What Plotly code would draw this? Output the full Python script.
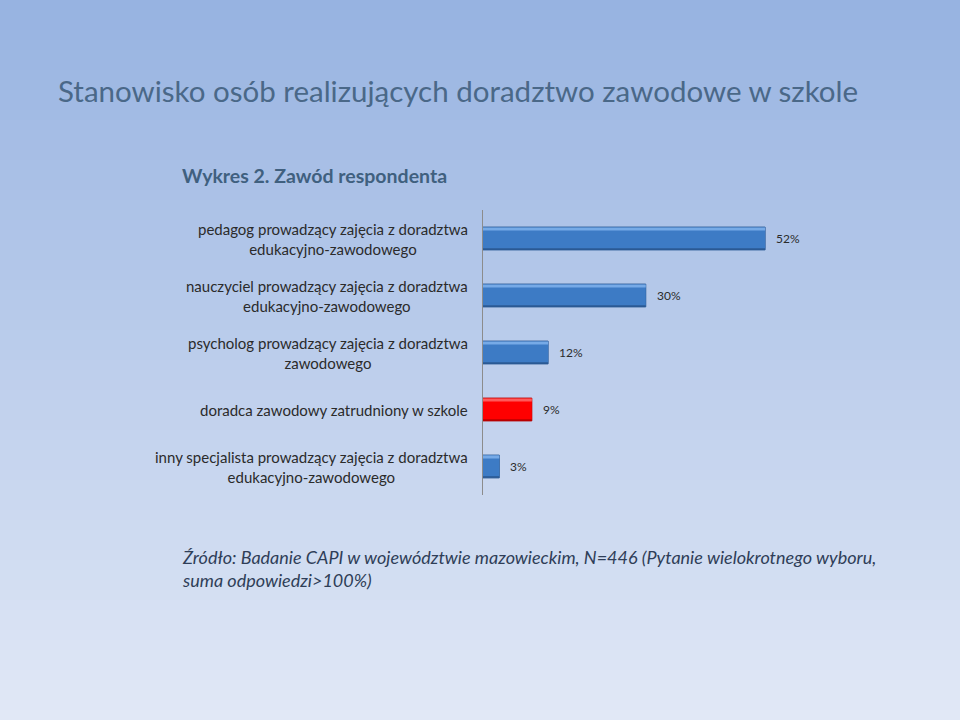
import plotly.graph_objects as go

categories = [
    "pedagog prowadzący zajęcia z doradztwa<br>edukacyjno-zawodowego",
    "nauczyciel prowadzący zajęcia z doradztwa<br>edukacyjno-zawodowego",
    "psycholog prowadzący zajęcia z doradztwa<br>zawodowego",
    "doradca zawodowy zatrudniony w szkole",
    "inny specjalista prowadzący zajęcia z doradztwa<br>edukacyjno-zawodowego",
]
values = [52, 30, 12, 9, 3]
value_labels = ["52%", "30%", "12%", "9%", "3%"]
bar_colors = ["#3D7BC5", "#3D7BC5", "#3D7BC5", "#FF0000", "#3D7BC5"]
edge_colors = ["#2B5A95", "#2B5A95", "#2B5A95", "#B80000", "#2B5A95"]
hi_colors = ["#80B3EC", "#80B3EC", "#80B3EC", "#FF6A6A", "#80B3EC"]

title_text = "Stanowisko osób realizujących doradztwo zawodowe w szkole"
subtitle_text = "Wykres 2. Zawód respondenta"
source_text = ("Źródło: Badanie CAPI w województwie mazowieckim, N=446 (Pytanie wielokrotnego wyboru,"
               "<br>suma odpowiedzi>100%)")

W, H = 960, 720
FONT = "Lato"

fig = go.Figure()

# dark base (bottom/right edge of bevel)
fig.add_trace(go.Bar(
    y=categories, x=values, orientation="h",
    marker=dict(color=edge_colors, line=dict(color=edge_colors, width=1)),
    width=0.40, offset=-0.20, hoverinfo="skip", showlegend=False,
))
# body
fig.add_trace(go.Bar(
    y=categories, x=values, orientation="h",
    marker=dict(color=bar_colors, line=dict(width=0)),
    width=0.365, offset=-0.195, hoverinfo="skip", showlegend=False,
))
# top highlight strip
fig.add_trace(go.Bar(
    y=categories, x=values, orientation="h",
    marker=dict(color=hi_colors, line=dict(width=0), opacity=0.85),
    width=0.055, offset=-0.195, hoverinfo="skip", showlegend=False,
))

# background gradient
shapes = []
top = (0x97, 0xB3, 0xE1)
bot = (0xE1, 0xE8, 0xF6)
N = 72
for i in range(N):
    t = i / (N - 1)
    c = tuple(int(round(top[k] + (bot[k] - top[k]) * t)) for k in range(3))
    shapes.append(dict(
        type="rect", xref="paper", yref="paper", layer="below",
        x0=0, x1=1, y0=1 - (i + 1) / N, y1=1 - i / N,
        fillcolor="rgb(%d,%d,%d)" % c, line=dict(width=0),
    ))

annotations = []
for cat in categories:
    annotations.append(dict(
        xref="paper", yref="y", x=470 / W, y=cat, text=cat,
        xanchor="right", yanchor="middle", align="center", showarrow=False,
        font=dict(family=FONT, size=15, color="#2B2B2B"),
    ))
for cat, v, lab in zip(categories, values, value_labels):
    annotations.append(dict(
        xref="x", yref="y", x=v, y=cat, text=lab, xshift=9,
        xanchor="left", yanchor="middle", showarrow=False,
        font=dict(family=FONT, size=12, color="#2B2B2B"),
    ))
annotations.append(dict(
    xref="paper", yref="paper", x=56 / W, y=1 - 90 / H, text=title_text,
    xanchor="left", yanchor="middle", showarrow=False,
    font=dict(family=FONT, size=29.5, color="#4A6888"),
))
annotations.append(dict(
    xref="paper", yref="paper", x=180 / W, y=1 - 175 / H, text="<b>" + subtitle_text + "</b>",
    xanchor="left", yanchor="middle", showarrow=False,
    font=dict(family=FONT, size=19.5, color="#40607F"),
))
annotations.append(dict(
    xref="paper", yref="paper", x=180 / W, y=1 - 568 / H, text="<i>" + source_text + "</i>",
    xanchor="left", yanchor="middle", align="left", showarrow=False,
    font=dict(family=FONT, size=18, color="#2F3E58"),
))

fig.update_layout(
    width=W, height=H,
    margin=dict(l=0, r=0, t=0, b=0),
    paper_bgcolor="rgba(0,0,0,0)",
    plot_bgcolor="rgba(0,0,0,0)",
    barmode="overlay",
    shapes=shapes,
    annotations=annotations,
    xaxis=dict(
        domain=[483 / W, 917 / W], range=[0, 80],
        showgrid=False, zeroline=False, showticklabels=False, showline=False,
        fixedrange=True,
    ),
    yaxis=dict(
        domain=[1 - 495 / H, 1 - 210 / H],
        categoryorder="array", categoryarray=categories, autorange="reversed",
        showgrid=False, zeroline=False, showticklabels=False,
        showline=True, linecolor="#8C8C8C", linewidth=1,
        fixedrange=True,
    ),
)

fig.write_html("out.html")
